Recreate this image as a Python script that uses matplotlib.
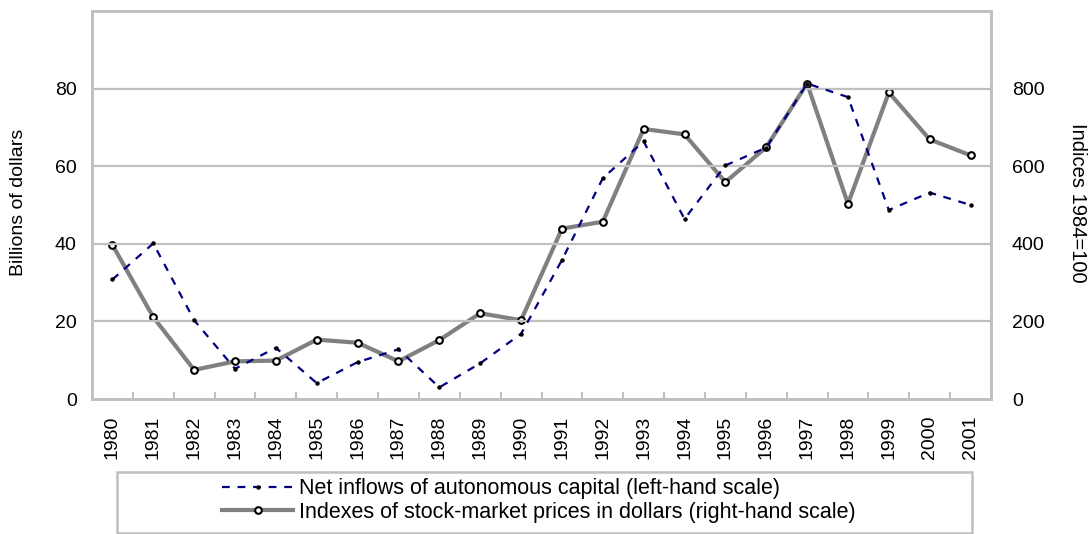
import matplotlib
matplotlib.use("Agg")
import matplotlib.pyplot as plt
from matplotlib.patches import Rectangle
import numpy as np

plt.rcParams['font.family'] = ['Liberation Sans', 'DejaVu Sans']

years = [str(y) for y in range(1980, 2002)]
net_inflows = [30.8, 40.1, 20.3, 7.8, 13.2, 4.1, 9.5, 12.8, 3.0, 9.2, 16.8, 35.8,
               56.9, 66.4, 46.4, 60.2, 64.8, 81.3, 77.8, 48.7, 53.2, 50.0]
stock_index = [397, 211, 75, 97, 99, 153, 145, 97, 152, 221, 203, 439,
               457, 696, 682, 559, 649, 813, 503, 790, 669, 628]

left_ticks = [0, 20, 40, 60, 80]
right_ticks = [0, 200, 400, 600, 800]

W, H = 1091, 534
fig = plt.figure(figsize=(W / 100, H / 100), dpi=100)
ax_l, ax_r, ax_t, ax_b = 92, 991, 11, 399
ax = fig.add_axes([ax_l / W, 1 - ax_b / H, (ax_r - ax_l) / W, (ax_b - ax_t) / H])
ax2 = ax.twinx()

grid_c = '#C0C0C0'
x = np.arange(len(years))
ax.set_xlim(-0.5, len(years) - 0.5)
ax.set_ylim(0, 100)
ax2.set_ylim(0, 1000)

for v in left_ticks[1:]:
    ax.axhline(v, color=grid_c, lw=1.6, zorder=0)

l1, = ax.plot(x, net_inflows, color='#000080', lw=1.6, dashes=(3.5, 3.5),
              marker='o', markersize=2.2, markerfacecolor='black',
              markeredgecolor='black', zorder=3)
l2, = ax2.plot(x, stock_index, color='#808080', lw=3.0, marker='o',
               markersize=4.8, markerfacecolor='white', markeredgecolor='black',
               markeredgewidth=1.5, zorder=4)
ax.set_zorder(ax2.get_zorder() + 1)
ax.patch.set_visible(False)

for a in (ax, ax2):
    for s in a.spines.values():
        s.set_color(grid_c)
        s.set_linewidth(2)

fs = 14
ax.set_yticks(left_ticks)
ax.set_yticklabels([str(v) for v in left_ticks], fontsize=fs)
ax.tick_params(axis='y', length=0, pad=11)
ax2.set_yticks(right_ticks)
ax2.set_yticklabels([str(v) for v in right_ticks], fontsize=fs)
ax2.tick_params(axis='y', length=0, pad=15)

ax.set_xticks(x)
ax.set_xticklabels(years, rotation=90, fontsize=fs, va='top')
ax.tick_params(axis='x', length=0, pad=12)
ax.set_xticks(np.arange(0.5, len(years) - 1, 1), minor=True)
ax.tick_params(axis='x', which='minor', direction='in', length=5, width=1.5, color=grid_c)

fig.text(19 / W, 1 - 202 / H, 'Billions of dollars', rotation=90, fontsize=14,
         ha='center', va='center')
fig.text(1078 / W, 1 - 203 / H, 'Indices 1984=100', rotation=-90, fontsize=14.5,
         ha='center', va='center')

fig.patches.append(Rectangle((117 / W, 1 - 533 / H), (972 - 117) / W, (533 - 472) / H,
                             transform=fig.transFigure, fill=False,
                             edgecolor=grid_c, lw=1.8))

fig.legend([l1, l2],
           ['Net inflows of autonomous capital (left-hand scale)',
            'Indexes of stock-market prices in dollars (right-hand scale)'],
           loc='upper left', bbox_to_anchor=(218 / W, 1 - 474 / H),
           frameon=False, fontsize=15.5, handlelength=3.3, handletextpad=0.25,
           labelspacing=0.12, borderpad=0.2, borderaxespad=0)

fig.savefig('out.png', dpi=100)
